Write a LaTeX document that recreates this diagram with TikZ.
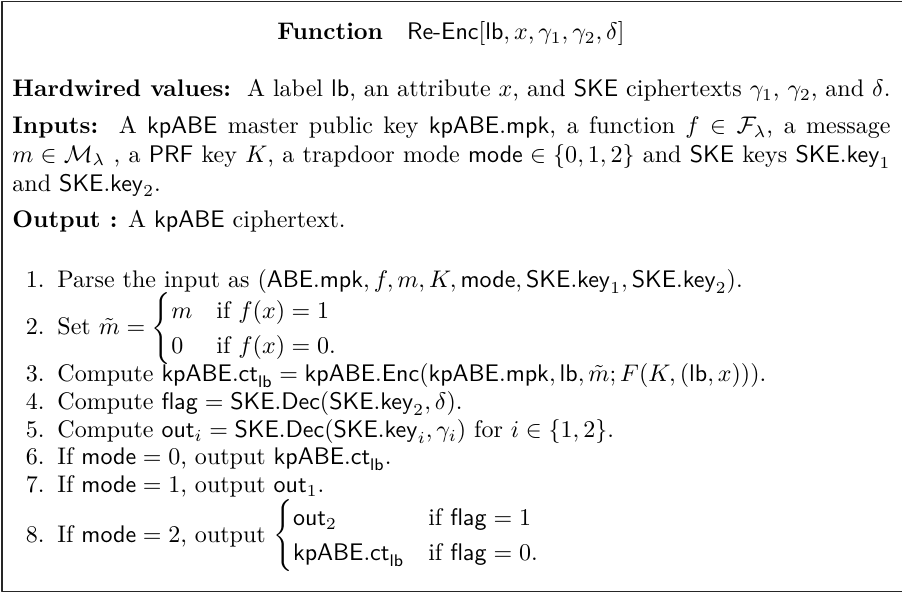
\documentclass[tikz,border=0pt]{standalone}
\usepackage{amsmath,amssymb}

% one justified line of the box
\newcommand{\fullline}[1]{\makebox[365.7pt][s]{#1}}

\begin{document}
\begin{tikzpicture}[x=0.4165pt, y=-0.4165pt, line cap=round, line join=round,
    every node/.style={inner sep=0pt, anchor=base west},
    numlabel/.style={anchor=base east}]
    \useasboundingbox (0,0) rectangle (902,593);
    \clip (0,0) rectangle (902,593);
    \draw [line width=0.7pt, color=black!85] (2,1.5) rectangle (912,591.5);

    \node[anchor=base] (title) at (451,40) {\textbf{Function}\quad$\textsf{Re-Enc}[\mathsf{lb}, x, \gamma_1, \gamma_2, \delta]$};

    \node (hardwired) at (12,97) {\textbf{Hardwired values:}\ \ A label $\mathsf{lb}$, an attribute $x$, and $\mathsf{SKE}$ ciphertexts $\gamma_1$, $\gamma_2$, and $\delta$.};
    \node (inputs1) at (12,133.5) {\fullline{\textbf{Inputs:}\ \ A $\mathsf{kpABE}$ master public key $\mathsf{kpABE.mpk}$, a function $f \in \mathcal{F}_\lambda$, a message}};
    \node (inputs2) at (12,162.3) {\fullline{$m \in \mathcal{M}_\lambda$ , a $\mathsf{PRF}$ key $K$, a trapdoor mode $\mathsf{mode} \in \{0,1,2\}$ and $\mathsf{SKE}$ keys $\mathsf{SKE.key}_1$}};
    \node (inputs3) at (12,191.1) {and $\mathsf{SKE.key}_2$.};
    \node (output) at (12,227.5) {\textbf{Output :} A $\mathsf{kpABE}$ ciphertext.};

    % the eight steps
    \node[numlabel] (n1) at (45,288) {1.};
    \node (s1) at (57,288) {Parse the input as $(\mathsf{ABE.mpk}, f, m, K, \mathsf{mode}, \mathsf{SKE.key}_1, \mathsf{SKE.key}_2)$.};
    \node[numlabel] (n2) at (45,335) {2.};
    \node (s2) at (57,335) {Set $\tilde{m} = \begin{cases} m & \text{if } f(x) = 1\\ 0 & \text{if } f(x) = 0. \end{cases}$};
    \node[numlabel] (n3) at (45,382) {3.};
    \node (s3) at (57,382) {Compute $\mathsf{kpABE.ct}_{\mathsf{lb}} = \mathsf{kpABE.Enc}(\mathsf{kpABE.mpk}, \mathsf{lb}, \tilde{m}; F(K, (\mathsf{lb}, x)))$.};
    \node[numlabel] (n4) at (45,410) {4.};
    \node (s4) at (57,410) {Compute $\mathsf{flag} = \mathsf{SKE.Dec}(\mathsf{SKE.key}_2, \delta)$.};
    \node[numlabel] (n5) at (45,437.5) {5.};
    \node (s5) at (57,437.5) {Compute $\mathsf{out}_i = \mathsf{SKE.Dec}(\mathsf{SKE.key}_i, \gamma_i)$ for $i \in \{1,2\}$.};
    \node[numlabel] (n6) at (45,465) {6.};
    \node (s6) at (57,465) {If $\mathsf{mode} = 0$, output $\mathsf{kpABE.ct}_{\mathsf{lb}}$.};
    \node[numlabel] (n7) at (45,492.5) {7.};
    \node (s7) at (57,492.5) {If $\mathsf{mode} = 1$, output $\mathsf{out}_1$.};
    \node[numlabel] (n8) at (45,542) {8.};
    \node (s8) at (57,542) {If $\mathsf{mode} = 2$, output $\begin{cases} \mathsf{out}_2 & \text{if } \mathsf{flag} = 1\\ \mathsf{kpABE.ct}_{\mathsf{lb}} & \text{if } \mathsf{flag} = 0. \end{cases}$};
\end{tikzpicture}
\end{document}
